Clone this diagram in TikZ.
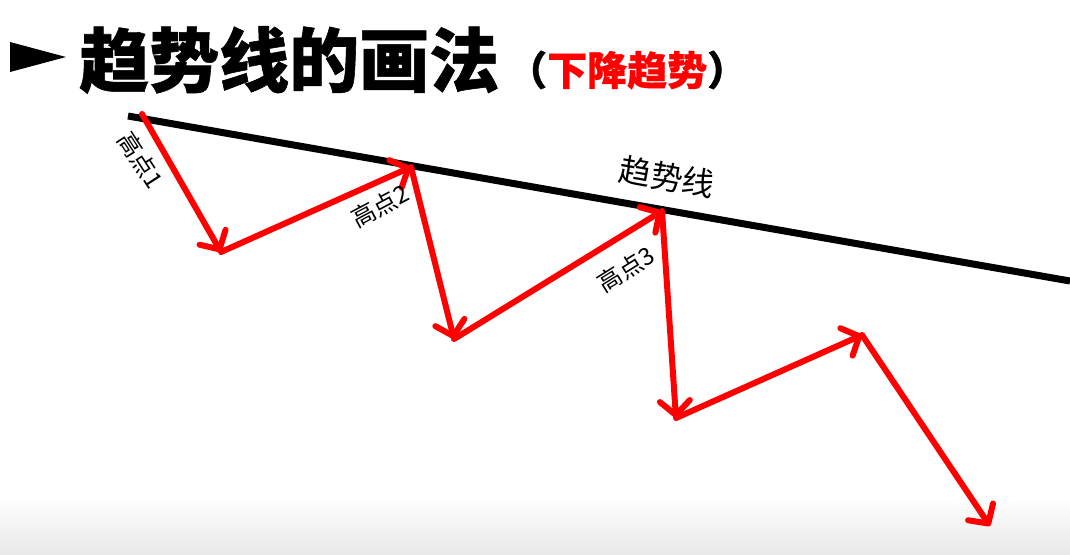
\documentclass[tikz,border=0pt]{standalone}
\usepackage{fontspec}
\newfontfamily\cjk{Noto Sans CJK SC}
\newfontfamily\cjkT{Noto Sans CJK SC}[BoldFeatures={FakeBold=0.8}]
\usetikzlibrary{arrows.meta}
\definecolor{redA}{RGB}{255,0,0}
\begin{document}
\begin{tikzpicture}[x=1pt,y=-1pt,
  zz/.style={draw=redA, line width=6pt, line cap=round, line join=round,
    -{Straight Barb[length=14pt,width=30pt,round]}},
  trend/.style={draw=black, line width=7pt},
  lab/.style={font=\cjk\fontsize{24}{24}\selectfont, text=black, inner sep=0pt}]
\useasboundingbox (0,0) rectangle (1070,554);
\shade[top color=white,bottom color=black!9] (0,498) rectangle (1070,554);
% title
\fill (10,42) -- (66,57) -- (10,72) -- cycle;
\node[anchor=west, inner sep=0pt] (title) at (79,60)
  {\cjkT\bfseries\fontsize{70}{70}\selectfont 趋势线的画法};
\node[anchor=west, inner sep=0pt] (sub) at (507,70)
  {\cjkT\bfseries\fontsize{40}{40}\selectfont （\textcolor{redA}{下降趋势}）};
% trend line
\coordinate (t1) at (128,116);
\coordinate (t2) at (1070,281);
\draw[trend] (t1) -- (t2);
\node[lab, rotate=-10, font=\cjk\fontsize{32}{32}\selectfont] (tl) at (667,177) {趋势线};
% zigzag
\coordinate (h1) at (142,114);
\coordinate (l1) at (221,252);
\coordinate (h2) at (411,167);
\coordinate (l2) at (454,339);
\coordinate (h3) at (662,211);
\coordinate (l3) at (676,418);
\coordinate (h4) at (862,335);
\coordinate (l4) at (990,526);
\draw[zz] (h1) -- (l1);
\draw[zz] (l1) -- (h2);
\draw[zz] (h2) -- (l2);
\draw[zz] (l2) -- (h3);
\draw[zz] (h3) -- (l3);
\draw[zz] (l3) -- (h4);
\draw[zz] (h4) -- (l4);
% labels
\node[lab, rotate=-57] (a1) at (141,160) {高点1};
\node[lab, rotate=28] (a2) at (380,206) {高点2};
\node[lab, rotate=32] (a3) at (626,269) {高点3};
\end{tikzpicture}
\end{document}
